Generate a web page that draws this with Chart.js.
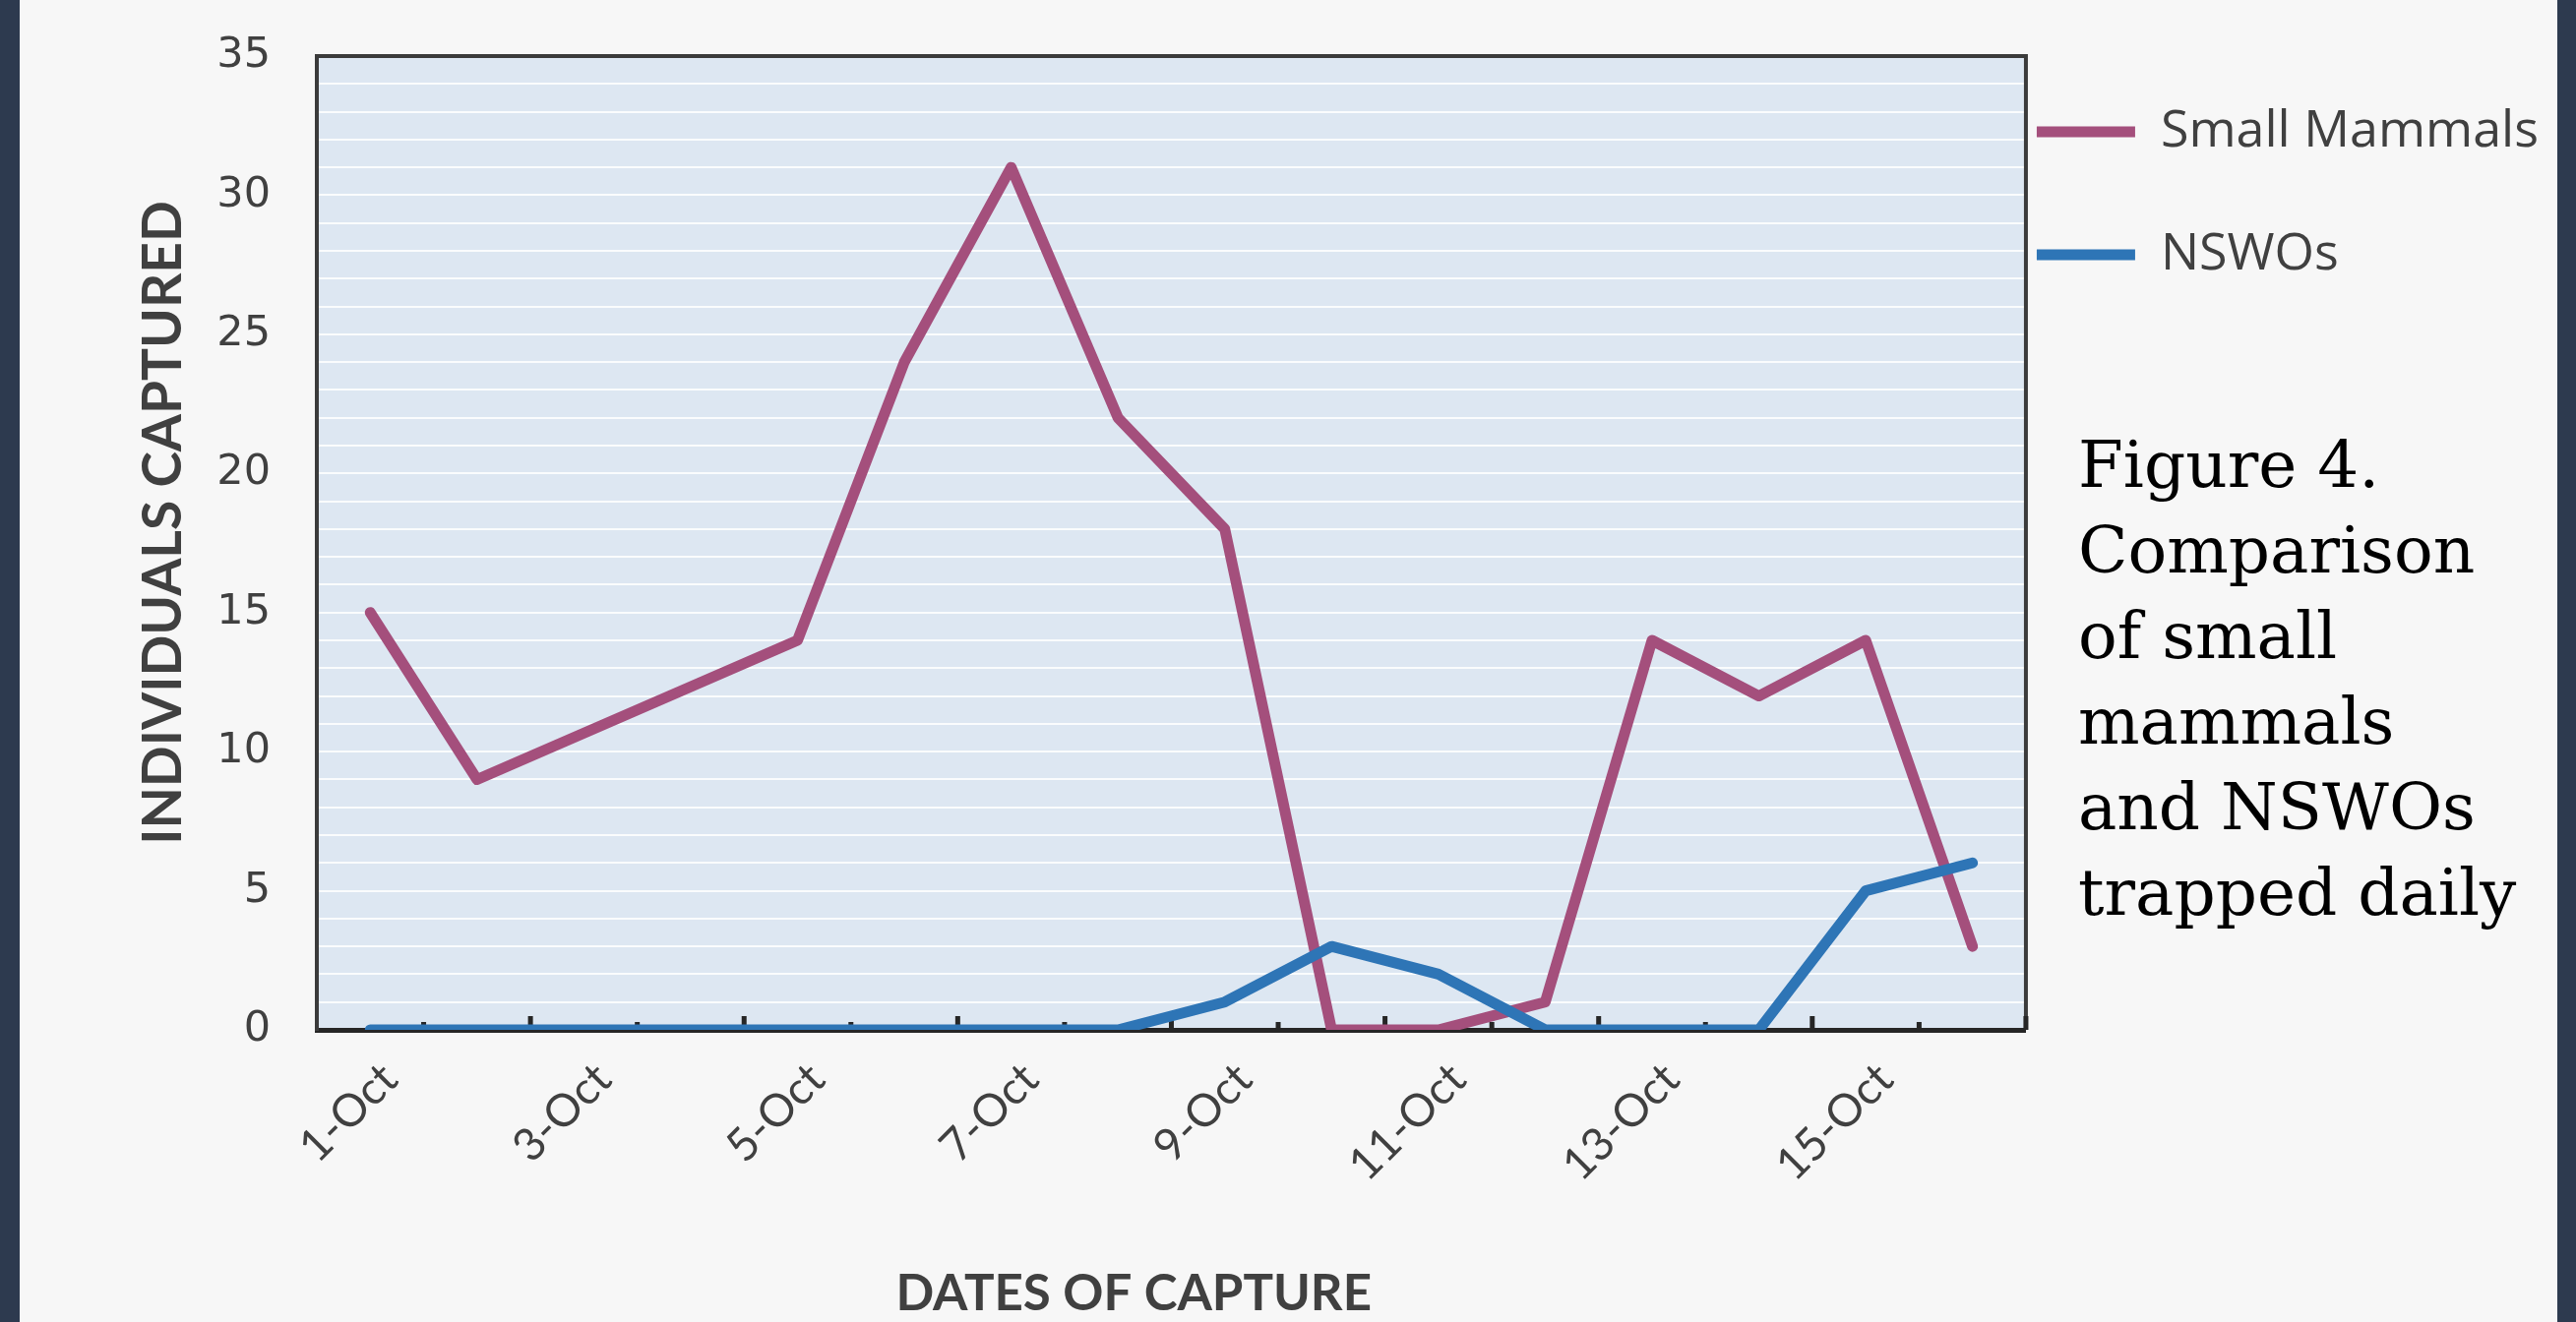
<!DOCTYPE html>
<html>
<head>
<meta charset="utf-8">
<script src="https://cdn.jsdelivr.net/npm/chart.js@4.4.1/dist/chart.umd.min.js"></script>
<style>
  html, body { margin: 0; padding: 0; width: 2618px; height: 1344px; overflow: hidden; background: #2d3a4f; }
  #panel { position: absolute; left: 20px; top: 0; width: 2579px; height: 1344px; background: #f7f7f7; }
  #c { position: absolute; left: 0; top: 0; }
  #caption { position: absolute; left: 2112px; top: 429px; font-family: 'DejaVu Serif', serif; font-size: 66px; line-height: 87px; color: #000; white-space: nowrap; }
</style>
</head>
<body>
<div id="panel"></div>
<canvas id="c" width="2618" height="1344"></canvas>
<div id="caption">Figure 4.<br>Comparison<br>of small<br>mammals<br>and NSWOs<br>trapped daily</div>
<script>
// ---- data ----
const dates = ['1-Oct','2-Oct','3-Oct','4-Oct','5-Oct','6-Oct','7-Oct','8-Oct','9-Oct','10-Oct','11-Oct','12-Oct','13-Oct','14-Oct','15-Oct','16-Oct'];
const smallMammals = [15, 9, null, null, 14, 24, 31, 22, 18, 0, 0, 1, 14, 12, 14, 3];
const nswos = [0, 0, null, null, 0, 0, 0, 0, 1, 3, 2, 0, 0, 0, 5, 6];
const xTickLabels = ['1-Oct','3-Oct','5-Oct','7-Oct','9-Oct','11-Oct','13-Oct','15-Oct'];
const yTickLabels = [0, 5, 10, 15, 20, 25, 30, 35];
const seriesNames = ['Small Mammals', 'NSWOs'];

const plotDecor = {
  id: 'plotDecor',
  beforeDraw(chart) {
    const { ctx, chartArea: a } = chart;
    ctx.save();
    ctx.fillStyle = '#dde7f2';
    ctx.fillRect(a.left, a.top, a.right - a.left, a.bottom - a.top);
    ctx.restore();
  },
  beforeDatasetsDraw(chart) {
    const { ctx, chartArea: a, scales: { x } } = chart;
    ctx.save();
    ctx.strokeStyle = '#3b3b3b';
    ctx.lineWidth = 4;
    ctx.beginPath();
    ctx.moveTo(a.left, a.top);
    ctx.lineTo(a.right, a.top);
    ctx.lineTo(a.right, a.bottom);
    ctx.stroke();
    ctx.fillStyle = '#262626';
    for (let i = 1; i <= dates.length; i++) {
      const px = i < dates.length ? (x.getPixelForValue(i - 1) + x.getPixelForValue(i)) / 2 : a.right;
      const len = i % 2 === 0 ? 14 : 8;
      ctx.fillRect(px - 2.5, a.bottom - len, 5, len);
    }
    ctx.restore();
  }
};

new Chart(document.getElementById('c'), {
  type: 'line',
  data: {
    labels: dates,
    datasets: [
      { label: seriesNames[0], data: smallMammals, borderColor: '#a44f7c', backgroundColor: '#a44f7c',
        borderWidth: 11, borderCapStyle: 'round', borderJoinStyle: 'round', order: 1 },
      { label: seriesNames[1], data: nswos, borderColor: '#2e75b6', backgroundColor: '#2e75b6',
        borderWidth: 11, borderCapStyle: 'round', borderJoinStyle: 'round', order: 0 }
    ]
  },
  options: {
    responsive: false,
    devicePixelRatio: 1,
    animation: false,
    spanGaps: true,
    elements: {
      line: { tension: 0, fill: false },
      point: { radius: 0, hoverRadius: 0 }
    },
    layout: { padding: { left: 120, top: 57, right: 28, bottom: 3 } },
    scales: {
      x: {
        type: 'category',
        offset: true,
        grid: { display: false, drawTicks: false },
        border: { display: true, color: '#262626', width: 5 },
        afterFit: (s) => { s.height = 294; },
        ticks: {
          autoSkip: false, maxRotation: 45, minRotation: 45, padding: 23, labelOffset: 20,
          color: '#404040', font: { family: 'Lato', size: 46 },
          callback: (v, i) => xTickLabels.includes(dates[i]) ? dates[i] : ''
        },
        title: {
          display: true, text: 'DATES OF CAPTURE\u2003\u2003', color: '#404040',
          font: { family: 'Lato', size: 51, weight: 'bold', lineHeight: 1 },
          padding: { top: 20, bottom: 0 }
        }
      },
      y: {
        min: 0, max: 35,
        grid: { color: 'rgba(255,255,255,0.85)', lineWidth: 2, drawTicks: true, tickLength: 37, tickColor: 'rgba(0,0,0,0)' },
        border: { display: true, color: '#3b3b3b', width: 4 },
        afterFit: (s) => { s.width = 202; },
        ticks: {
          stepSize: 1, autoSkip: false, padding: 10, color: '#404040',
          font: { family: 'DejaVu Sans', size: 43 },
          callback: (v) => yTickLabels.includes(v) ? String(v) : ''
        },
        title: {
          display: true, text: '\u2002 INDIVIDUALS CAPTURED', color: '#404040',
          font: { family: 'Lato', size: 55, weight: 'bold', lineHeight: 1.2 },
          padding: { top: 13, bottom: 20 }
        }
      }
    },
    plugins: {
      tooltip: { enabled: false },
      legend: {
        position: 'right', align: 'start',
        title: { display: true, text: '', padding: 0, font: { size: 40, lineHeight: 1 } },
        labels: {
          usePointStyle: true, pointStyle: 'line', pointStyleWidth: 100, boxHeight: 8,
          padding: 11, color: '#404040',
          font: { family: 'Open Sans', size: 52, lineHeight: 114 / 52 },
          generateLabels(chart) {
            const items = Chart.defaults.plugins.legend.labels.generateLabels(chart);
            items.sort((a, b) => a.datasetIndex - b.datasetIndex);
            items.forEach(it => { it.text = [it.text]; });
            return items;
          }
        }
      }
    }
  },
  plugins: [plotDecor]
});
</script>
</body>
</html>
